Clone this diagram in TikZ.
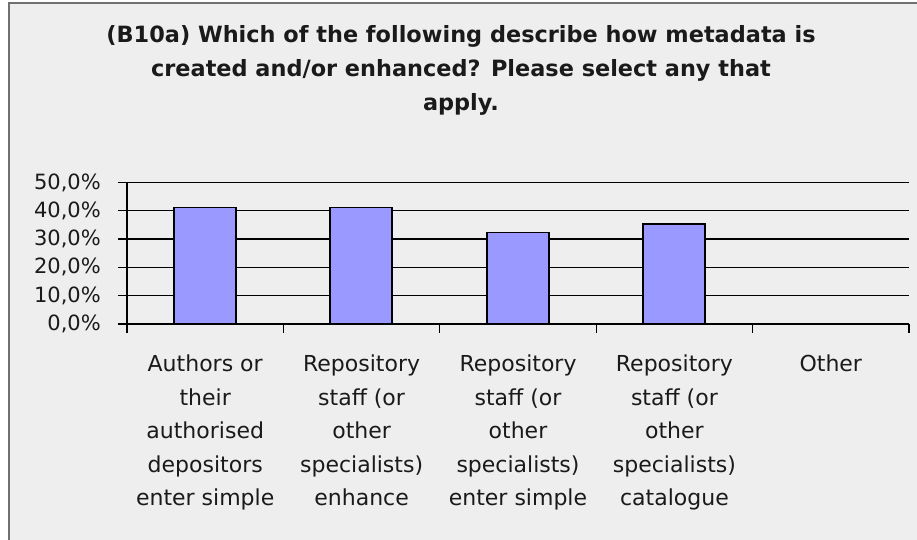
\documentclass[tikz,border=0pt]{standalone}
\usepackage{fontspec}
\setmainfont{DejaVu Sans}
\definecolor{chartbg}{HTML}{EEEEEE}
\definecolor{barblue}{HTML}{9999FF}
\definecolor{framegray}{HTML}{707070}
\definecolor{inkgray}{HTML}{1A1A1A}

\begin{document}
\begin{tikzpicture}[x=1pt,y=-1pt,
    bar/.style={draw=black,line width=1.3pt,fill=barblue},
    grid/.style={draw=black,line width=1.3pt},
    ticklabel/.style={anchor=east,inner sep=0pt,text=inkgray,font=\fontsize{21}{24}\selectfont},
    catlabel/.style={anchor=north,inner sep=0pt,align=center,text=inkgray,font=\fontsize{22}{33.5}\selectfont}]
   \useasboundingbox (0,0) rectangle (917,539);
   \clip (0,0) rectangle (917,539);
   \fill[white] (0,0) rectangle (917,539);
   \draw[fill=chartbg,draw=framegray,line width=1.5pt] (9,3) rectangle (940,560);

   % title
   \node[align=center,text=inkgray,font=\bfseries\fontsize{22.4}{34}\selectfont] (title) at (461,70)
     {(B10a) Which of the following describe how metadata is\\
      created and/or enhanced? Please select any that\\
      apply.};

   % value axis, grid and tick labels
   \foreach \v/\txt [count=\i from 0] in {0/{0,0\%},10/{10,0\%},20/{20,0\%},30/{30,0\%},40/{40,0\%},50/{50,0\%}} {
     \draw[grid] (118,324-2.83*\v) -- (909,324-2.83*\v);
     \node[ticklabel] (tick\i) at (101,324-2.83*\v) {\txt};
   }
   \draw[grid] (127,182.5) -- (127,333);
   \foreach \x in {283.4,439.8,596.2,752.6,909} {
     \draw[grid] (\x,324) -- (\x,333);
   }

   % bars
   \draw[bar] (174,324) rectangle (236,324-2.83*41.2);
   \draw[bar] (330,324) rectangle (392,324-2.83*41.2);
   \draw[bar] (487,324) rectangle (549,324-2.83*32.4);
   \draw[bar] (643,324) rectangle (705,324-2.83*35.3);

   % category labels
   \node[catlabel] (authors) at (205.2,355) {Authors or\\their\\authorised\\depositors\\enter simple};
   \node[catlabel] (enhance) at (361.6,355) {Repository\\staff (or\\other\\specialists)\\enhance};
   \node[catlabel] (simple) at (518,355) {Repository\\staff (or\\other\\specialists)\\enter simple};
   \node[catlabel] (catalogue) at (674.4,355) {Repository\\staff (or\\other\\specialists)\\catalogue};
   \node[catlabel] (other) at (830.8,355) {Other};
\end{tikzpicture}
\end{document}
